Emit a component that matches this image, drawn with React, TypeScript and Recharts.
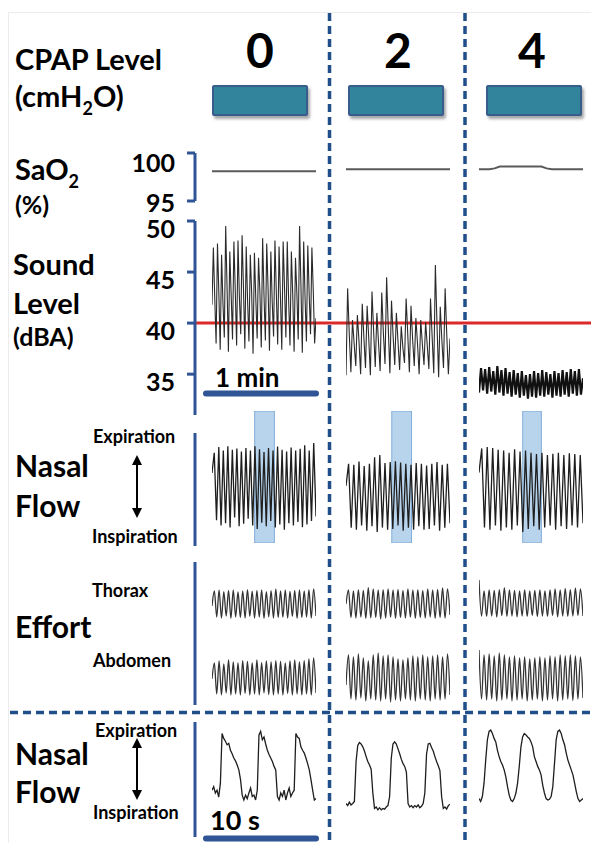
import React from "react";
import {
  Line,
  LineChart,
  ReferenceArea,
  ReferenceLine,
  XAxis,
  YAxis,
} from "recharts";

const FONT = "Lato, 'Open Sans', sans-serif";
const AXIS_BLUE = "#2F5597";
const DASH_BLUE = "#1F4E89";

// left edge of each CPAP column, px
const COL_LEFT = [212, 346, 479];
const COL_W = 104;
const HEADER_X = [260, 398, 532];

const cpapLevels = ["0", "2", "4"];

// SaO2 (%)
const sao2Ticks = [95, 100];
const sao2Cpap0 = [98.1, 98.1, 98.1, 98.1, 98.1, 98.1, 98.1, 98.1, 98.1, 98.1, 98.1];
const sao2Cpap2 = [98.3, 98.3, 98.3, 98.3, 98.3, 98.3, 98.3, 98.3, 98.3, 98.3, 98.3];
const sao2Cpap4 = [
  98.3, 98.3, 98.3, 98.4, 98.6, 98.6, 98.6, 98.6, 98.6, 98.6, 98.6, 98.6, 98.6,
  98.4, 98.3, 98.3, 98.3, 98.3, 98.3, 98.3, 98.3,
];

// sound level (dBA)
const soundTicks = [35, 40, 45, 50];
const soundLimit = 40;
const soundCpap0 = [
  41.8, 47.4, 42.5, 38.0, 47.8, 43.0, 37.4, 46.7, 42.0, 38.6, 49.5, 43.5, 37.2,
  47.0, 42.8, 38.4, 48.0, 43.2, 37.8, 48.1, 42.6, 38.9, 48.6, 43.4, 37.5, 47.5,
  42.2, 38.2, 46.7, 42.9, 37.0, 46.9, 42.4, 38.5, 46.4, 43.1, 37.6, 48.3, 42.7,
  38.3, 47.8, 43.3, 37.3, 47.0, 42.1, 38.7, 48.1, 43.0, 37.9, 47.5, 42.6, 37.4,
  48.0, 43.5, 38.6, 48.0, 42.3, 37.8, 47.0, 42.8, 37.2, 46.4, 43.0, 38.4, 49.5,
  43.6, 37.1, 48.0, 42.5, 38.2, 47.6, 42.9, 38.9, 47.4, 43.2, 38.0, 40.5,
];
const soundCpap2 = [
  34.9, 43.4, 39.0, 35.2, 40.3, 38.0, 35.8, 40.8, 38.2, 35.0, 41.9, 38.6, 35.6,
  41.7, 38.5, 34.9, 43.1, 39.2, 35.7, 41.0, 38.1, 35.3, 43.0, 39.0, 36.0, 44.5,
  39.6, 35.1, 42.2, 38.7, 35.9, 41.0, 38.2, 35.4, 39.7, 37.6, 36.1, 42.4, 38.9,
  35.2, 41.7, 38.4, 35.8, 40.5, 38.0, 35.0, 40.3, 37.9, 35.9, 40.1, 37.8, 35.5,
  42.4, 38.7, 35.1, 45.7, 39.8, 34.7, 41.6, 38.3, 35.6, 43.4, 38.9, 35.0, 38.5,
];
const soundCpap4 = [
  33.2, 35.6, 33.4, 35.5, 33.1, 35.7, 33.3, 35.3, 33.0, 35.8, 33.2, 35.4, 32.9,
  35.6, 33.1, 35.2, 32.8, 35.4, 33.0, 35.1, 32.7, 35.3, 32.9, 34.9, 32.6, 35.0,
  32.8, 35.3, 32.7, 35.1, 32.9, 35.4, 32.8, 35.2, 33.0, 35.0, 32.7, 35.3, 32.9,
  35.1, 32.8, 35.4, 33.0, 35.2, 32.8, 35.5, 33.1, 35.3, 32.9, 35.5, 33.0, 34.6,
];

// nasal flow, 1 min excerpts (a.u., expiration up)
const nasalCpap0 = [
  0.09, 0.55, -0.98, 0.68, -1.1, 0.6, -1.05, 0.7, -1.15, 0.62, -0.92, 0.65,
  -1.12, 0.58, -1.06, 0.66, -0.95, 0.6, -1.1, 0.7, -1.18, 0.63, -1.04, 0.57,
  -1.12, 0.66, -1.0, 0.6, -1.15, 0.69, -1.08, 0.62, -1.2, 0.58, -1.05, 0.67,
  -1.1, 0.6, -1.02, 0.64, -1.14, 0.72, -1.08, 0.6, -1.0, 0.77, -0.9,
];
const nasalCpap2 = [
  -0.2, 0.3, -1.15, 0.28, -1.2, 0.35, -1.1, 0.25, -1.22, 0.3, -1.12, 0.45,
  -1.25, 0.5, -1.15, 0.32, -1.2, 0.34, -1.18, 0.36, -1.1, 0.33, -1.22, 0.3,
  -1.15, 0.28, -1.2, 0.32, -1.12, 0.3, -1.2, 0.26, -1.18, 0.3, -1.1, 0.34,
  -1.22, 0.28, -1.15, 0.3, -1.05,
];
const nasalCpap4 = [
  0.1, 0.65, -1.15, 0.68, -1.2, 0.66, -1.1, 0.62, -1.22, 0.6, -1.15, 0.55,
  -1.2, 0.63, -1.1, 0.58, -1.25, 0.6, -1.18, 0.55, -1.12, 0.52, -1.2, 0.55,
  -1.15, 0.5, -1.1, 0.53, -1.2, 0.55, -1.12, 0.5, -1.18, 0.54, -1.1, 0.52,
  -1.15, 0.5, -1.05,
];
// expanded 10 s windows (fraction of the 1 min excerpt)
const nasalWindows: [number, number][] = [
  [0.41, 0.6],
  [0.44, 0.63],
  [0.42, 0.6],
];

// respiratory effort bands (a.u.)
const thoraxCpap0 = [
  -0.3, 0.45, -0.85, 0.5, -0.9, 0.42, -0.8, 0.48, -0.92, 0.5, -0.85, 0.4, -0.88,
  0.46, -0.9, 0.52, -0.82, 0.44, -0.9, 0.48, -0.86, 0.5, -0.92, 0.42, -0.84,
  0.47, -0.9, 0.55, -0.88, 0.45, -0.86, 0.5, -0.9, 0.43, -0.82, 0.48, -0.92,
  0.5, -0.88, 0.46, -0.85, 0.52, -0.9, 0.56, -0.8,
];
const thoraxCpap2 = [
  -0.2, 0.5, -0.88, 0.45, -0.9, 0.52, -0.85, 0.48, -0.92, 0.62, -0.9, 0.55,
  -0.88, 0.5, -0.95, 0.52, -0.9, 0.55, -0.86, 0.5, -0.92, 0.53, -0.88, 0.48,
  -0.9, 0.55, -0.86, 0.5, -0.92, 0.52, -0.88, 0.48, -0.9, 0.55, -0.85, 0.5,
  -0.92, 0.53, -0.88, 0.6, -0.9, 0.55, -0.75,
];
const thoraxCpap4 = [
  1.0, -0.8, 0.45, -0.82, 0.5, -0.8, 0.48, -0.85, 0.52, -0.78, 0.62, -0.82, 0.5,
  -0.8, 0.48, -0.84, 0.46, -0.8, 0.5, -0.82, 0.45, -0.78, 0.48, -0.83, 0.5,
  -0.8, 0.46, -0.82, 0.5, -0.78, 0.55, -0.84, 0.5, -0.8, 0.58, -0.82, 0.52,
  -0.8, 0.6, -0.78, 0.55, -0.8,
];
const abdomenCpap0 = [
  -0.2, 0.6, -0.95, 0.7, -1.0, 0.55, -0.9, 0.75, -1.0, 0.65, -0.95, 0.6, -1.0,
  0.72, -0.92, 0.68, -1.0, 0.6, -0.95, 0.75, -1.0, 0.62, -0.9, 0.7, -0.98, 0.65,
  -1.0, 0.72, -0.95, 0.68, -1.0, 0.6, -0.92, 0.7, -1.0, 0.75, -0.95, 0.65, -1.0,
  0.72, -0.95, 0.8, -1.0, 0.85, -0.9,
];
const abdomenCpap2 = [
  -0.5, 1.0, -1.2, 0.9, -1.25, 1.05, -1.15, 0.85, -1.3, 0.7, -1.2, 1.0, -1.25,
  1.1, -1.3, 0.95, -1.2, 1.0, -1.35, 0.9, -1.25, 0.8, -1.3, 0.75, -1.2, 0.85,
  -1.25, 0.95, -1.3, 0.9, -1.2, 1.0, -1.25, 0.9, -1.3, 0.95, -1.2, 1.0, -1.25,
  0.9, -1.2, 1.05, -1.0,
];
const abdomenCpap4 = [
  1.25, -1.2, 1.0, -1.25, 1.05, -1.2, 0.95, -1.3, 1.1, -1.25, 1.0, -1.2, 0.9,
  -1.3, 0.95, -1.25, 0.85, -1.2, 0.9, -1.3, 0.8, -1.25, 0.85, -1.2, 0.9, -1.3,
  0.85, -1.25, 0.95, -1.2, 0.9, -1.3, 1.0, -1.25, 0.95, -1.2, 1.0, -1.28, 0.95,
  -1.2, 0.9, -1.15,
];

// nasal flow, 10 s windows (a.u.)
const flow10sCpap0 = [
  0.14, 0.19, 0.1, 0.14, 0.04, 0.24, 0.95, 0.88, 0.84, 0.79, 0.81, 0.71, 0.66,
  0.6, 0.56, 0.5, 0.43, 0.29, 0.07, 0.0, 0.07, 0.02, 0.1, 0.17, 0.05, 0.07, 0.0,
  0.14, 0.93, 0.98, 0.86, 0.9, 0.8, 0.71, 0.65, 0.6, 0.55, 0.48, 0.43, 0.05,
  0.0, 0.1, 0.05, 0.14, 0.0, 0.1, 0.17, 0.05, 0.1, 0.14, 0.95, 0.9, 0.88, 0.76,
  0.71, 0.67, 0.6, 0.52, 0.43, 0.29, 0.14, 0.0, 0.02,
];
const flow10sCpap2 = [
  -0.05, -0.08, -0.03, -0.07, -0.05, -0.02, 0.55, 0.78, 0.82, 0.8, 0.76, 0.7,
  0.62, 0.55, 0.5, 0.44, 0.1, -0.12, -0.1, -0.14, -0.11, -0.14, -0.12, -0.13,
  -0.1, -0.08, 0.05, 0.6, 0.8, 0.83, 0.8, 0.73, 0.66, 0.58, 0.52, 0.48, 0.4,
  -0.05, -0.1, -0.08, -0.11, -0.08, -0.1, -0.07, -0.11, -0.09, -0.05, 0.1, 0.65,
  0.8, 0.81, 0.75, 0.7, 0.62, 0.55, 0.49, 0.42, 0.05, -0.12, -0.1, -0.13, -0.08,
  -0.06,
];
const flow10sCpap4 = [
  0.02, -0.02, 0.05, 0.24, 0.57, 0.86, 0.98, 1.0, 0.95, 0.88, 0.83, 0.71, 0.62,
  0.55, 0.5, 0.43, 0.33, 0.19, 0.07, 0.0, -0.02, 0.02, 0.1, 0.24, 0.48, 0.76,
  0.9, 0.95, 0.93, 0.9, 0.88, 0.83, 0.76, 0.62, 0.55, 0.48, 0.43, 0.36, 0.21,
  0.1, 0.02, 0.0, 0.01, 0.05, 0.19, 0.52, 0.86, 0.98, 1.0, 0.95, 0.86, 0.79,
  0.67, 0.57, 0.5, 0.43, 0.36, 0.24, 0.12, 0.02, -0.02, 0.0, 0.02,
];

type TraceProps = {
  values: number[];
  col: number;
  top: number;
  height: number;
  domain: [number, number];
  stroke?: string;
  strokeWidth?: number;
  curve?: "linear" | "monotone";
  highlight?: [number, number];
};

const Trace = ({
  values,
  col,
  top,
  height,
  domain,
  stroke = "#1e1e1e",
  strokeWidth = 1.2,
  curve = "linear",
  highlight,
}: TraceProps) => {
  const data = values.map((v, i) => ({ t: i / (values.length - 1), v }));
  return (
    <div style={{ position: "absolute", left: COL_LEFT[col], top }}>
      <LineChart
        width={COL_W}
        height={height}
        data={data}
        margin={{ top: 0, right: 0, bottom: 0, left: 0 }}
      >
        <XAxis dataKey="t" type="number" domain={[0, 1]} hide />
        <YAxis type="number" domain={domain} hide allowDataOverflow />
        <Line
          dataKey="v"
          type={curve}
          stroke={stroke}
          strokeWidth={strokeWidth}
          dot={false}
          isAnimationActive={false}
        />
        {highlight && (
          <ReferenceArea
            x1={highlight[0]}
            x2={highlight[1]}
            fill="#9DC3E6"
            fillOpacity={0.72}
            stroke="#6C9FD3"
            strokeOpacity={0.8}
          />
        )}
      </LineChart>
    </div>
  );
};

const makeTick = (dyFor: (v: number) => number) => (props: any) => {
  const { x, y, payload } = props;
  return (
    <text
      x={x}
      y={y + dyFor(payload.value)}
      textAnchor="end"
      fontFamily={FONT}
      fontWeight={700}
      fontSize={25}
      fill="#000"
    >
      {payload.value}
    </text>
  );
};

type AxisProps = {
  top: number;
  height: number;
  domain: [number, number];
  ticks?: number[];
  dyFor?: (v: number) => number;
  refY?: number;
  width?: number;
};

const PAD = 14;

// left scale of each row; chart starts at x = 100, axis line sits at x = 195
const RowAxis = ({ top, height, domain, ticks, dyFor, refY, width = 102 }: AxisProps) => {
  const rows = (ticks ?? domain).map((v) => ({ t: 0.5, v }));
  return (
    <div style={{ position: "absolute", left: 100, top: top - PAD }}>
      <LineChart
        width={width}
        height={height + PAD + 22}
        data={rows}
        margin={{ top: PAD, right: 0, bottom: 22, left: 0 }}
      >
        <XAxis type="number" dataKey="t" domain={[0, 1]} allowDataOverflow hide />
        <YAxis
          type="number"
          dataKey="v"
          domain={domain}
          allowDataOverflow
          ticks={ticks}
          interval={0}
          width={95}
          tickSize={8}
          tickMargin={12}
          axisLine={{ stroke: AXIS_BLUE, strokeWidth: 3 }}
          tickLine={ticks ? { stroke: AXIS_BLUE, strokeWidth: 3 } : false}
          tick={ticks && dyFor ? makeTick(dyFor) : false}
        />
        {refY !== undefined && (
          <ReferenceLine y={refY} stroke="#DA2A2A" strokeWidth={3} />
        )}
      </LineChart>
    </div>
  );
};

const T = ({ x, y, size, children }: { x: number; y: number; size: number; children: React.ReactNode }) => (
  <text x={x} y={y} fontSize={size} fontFamily={FONT} fontWeight={700} fill="#000">
    {children}
  </text>
);

const Arrow = ({ x, y1, y2 }: { x: number; y1: number; y2: number }) => (
  <g fill="#000" stroke="#000">
    <line x1={x} y1={y1 + 8} x2={x} y2={y2 - 8} strokeWidth={2} />
    <polygon points={`${x},${y1} ${x - 5},${y1 + 10} ${x + 5},${y1 + 10}`} stroke="none" />
    <polygon points={`${x},${y2} ${x - 5},${y2 - 10} ${x + 5},${y2 - 10}`} stroke="none" />
  </g>
);

const App = () => {
  const sao2 = [sao2Cpap0, sao2Cpap2, sao2Cpap4];
  const sound = [soundCpap0, soundCpap2, soundCpap4];
  const nasal = [nasalCpap0, nasalCpap2, nasalCpap4];
  const thorax = [thoraxCpap0, thoraxCpap2, thoraxCpap4];
  const abdomen = [abdomenCpap0, abdomenCpap2, abdomenCpap4];
  const flow10s = [flow10sCpap0, flow10sCpap2, flow10sCpap4];

  return (
    <div
      style={{
        position: "absolute",
        left: 0,
        top: 0,
        width: 591,
        height: 843,
        background: "#fff",
        overflow: "hidden",
      }}
    >
      {/* CPAP level boxes */}
      {[212, 348, 486].map((x) => (
        <div
          key={x}
          style={{
            position: "absolute",
            left: x,
            top: 85,
            width: 92,
            height: 27,
            background: "#31849B",
            border: "2px solid #385D8A",
            borderRadius: 2,
            boxShadow: "2px 3px 3px rgba(0,0,0,0.35)",
          }}
        />
      ))}

      {/* row scales */}
      <RowAxis
        top={153}
        height={48}
        domain={[95, 100]}
        ticks={sao2Ticks}
        dyFor={(v) => (v === 100 ? 19 : 11)}
      />
      <RowAxis
        top={221}
        height={194}
        width={491}
        domain={[31, 50]}
        ticks={soundTicks}
        dyFor={() => 17}
        refY={soundLimit}
      />
      <RowAxis top={433} height={113} domain={[-1.57, 1]} />
      <RowAxis top={562} height={143} domain={[-1, 1]} />
      <RowAxis top={722} height={115} domain={[-0.53, 1.11]} />

      {/* traces per CPAP column */}
      {[0, 1, 2].map((c) => (
        <React.Fragment key={c}>
          <Trace values={sao2[c]} col={c} top={153} height={48} domain={[95, 100]} stroke="#5a5a5a" strokeWidth={2} />
          <Trace values={sound[c]} col={c} top={221} height={194} domain={[31, 50]} stroke={c === 2 ? "#111" : "#2a2a2a"} strokeWidth={c === 2 ? 2.2 : 1.1} />
          <Trace values={nasal[c]} col={c} top={411} height={132} domain={[-1.5, 1.5]} strokeWidth={1.3} highlight={nasalWindows[c]} />
          <Trace values={thorax[c]} col={c} top={575} height={50} domain={[-1.25, 1.25]} stroke="#333" strokeWidth={1.3} curve="monotone" />
          <Trace values={abdomen[c]} col={c} top={645} height={60} domain={[-1.5, 1.5]} stroke="#333" strokeWidth={1.3} curve="monotone" />
          <Trace values={flow10s[c]} col={c} top={716} height={126} domain={[-0.6, 1.2]} strokeWidth={1.3} />
        </React.Fragment>
      ))}

      {/* labels, separators, scale bars */}
      <svg
        width={591}
        height={843}
        style={{ position: "absolute", left: 0, top: 0, pointerEvents: "none" }}
      >
        <rect x={8.5} y={12.5} width={640} height={900} fill="none" stroke="#ececec" />

        {cpapLevels.map((lv, i) => (
          <text
            key={lv}
            x={HEADER_X[i]}
            y={68}
            textAnchor="middle"
            fontSize={48}
            fontFamily={FONT}
            fontWeight={700}
          >
            {lv}
          </text>
        ))}

        <T x={15} y={70} size={29}>CPAP Level</T>
        <T x={15} y={107} size={29}>
          (cmH<tspan fontSize={18} dy={8}>2</tspan>
          <tspan dy={-8}>O)</tspan>
        </T>
        <T x={15} y={180} size={29}>
          SaO<tspan fontSize={18} dy={8}>2</tspan>
        </T>
        <T x={15} y={214} size={25}>(%)</T>

        <T x={13} y={275} size={29}>Sound</T>
        <T x={13} y={314} size={29}>Level</T>
        <T x={13} y={346} size={25}>(dBA)</T>
        <T x={215} y={387} size={26}>1 min</T>

        <T x={93} y={443} size={18}>Expiration</T>
        <T x={15} y={477} size={30}>Nasal</T>
        <T x={15} y={517} size={30}>Flow</T>
        <T x={92} y={543} size={18}>Inspiration</T>
        <Arrow x={137} y1={455} y2={518} />

        <T x={92} y={597} size={18}>Thorax</T>
        <T x={15} y={638} size={30}>Effort</T>
        <T x={93} y={667} size={18}>Abdomen</T>

        <T x={95} y={737} size={18}>Expiration</T>
        <T x={15} y={765} size={30}>Nasal</T>
        <T x={15} y={803} size={30}>Flow</T>
        <T x={93} y={819} size={18}>Inspiration</T>
        <Arrow x={137} y1={738} y2={800} />
        <T x={210} y={830} size={27}>10 s</T>

        <g stroke={AXIS_BLUE} strokeWidth={6} strokeLinecap="round">
          <line x1={206} y1={393.5} x2={316} y2={393.5} />
          <line x1={206} y1={838.5} x2={316} y2={838.5} />
        </g>

        <g stroke={DASH_BLUE} strokeWidth={3.5} strokeDasharray="8 5">
          <line x1={329.5} y1={13} x2={329.5} y2={843} />
          <line x1={465} y1={13} x2={465} y2={843} />
          <line x1={10} y1={712.5} x2={591} y2={712.5} />
        </g>
      </svg>
    </div>
  );
};

export default App;
